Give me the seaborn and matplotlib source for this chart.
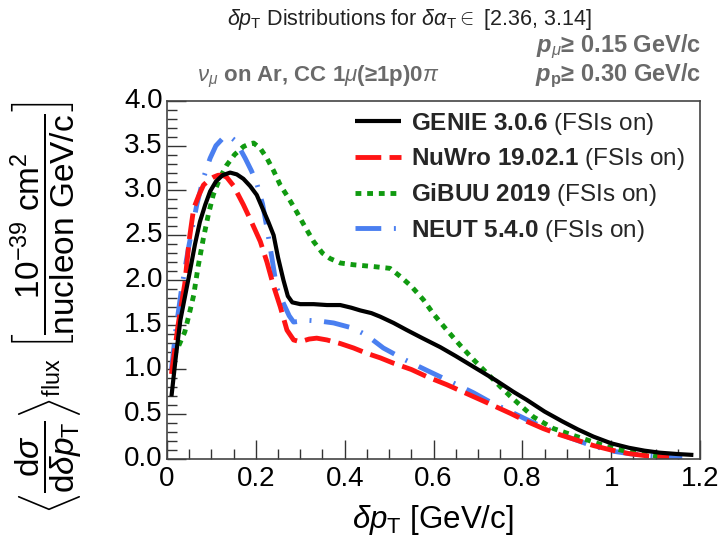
import numpy as np
import pandas as pd
import seaborn as sns
import matplotlib
matplotlib.use("Agg")
import matplotlib.pyplot as plt
from matplotlib.lines import Line2D
from matplotlib.ticker import MultipleLocator

# ---------------- data ----------------
genie_x = [0.01, 0.02, 0.03, 0.041, 0.052, 0.063, 0.074, 0.086, 0.097, 0.11, 0.125, 0.142,
           0.157, 0.172, 0.187, 0.202, 0.215, 0.228, 0.24, 0.25, 0.262, 0.272, 0.282, 0.30,
           0.33, 0.36, 0.39, 0.415, 0.435, 0.46, 0.48, 0.51, 0.54, 0.575, 0.615, 0.65, 0.69,
           0.74, 0.78, 0.81, 0.85, 0.89, 0.925, 0.96, 1.0, 1.04, 1.075, 1.11, 1.15, 1.185]
genie_y = [0.70, 1.15, 1.55, 1.83, 2.11, 2.40, 2.65, 2.84, 2.99, 3.10, 3.17, 3.20,
           3.18, 3.13, 3.05, 2.95, 2.80, 2.65, 2.50, 2.25, 2.00, 1.82, 1.75, 1.73,
           1.73, 1.72, 1.72, 1.69, 1.66, 1.63, 1.59, 1.52, 1.44, 1.35, 1.25, 1.15, 1.03,
           0.88, 0.75, 0.66, 0.53, 0.42, 0.33, 0.25, 0.175, 0.125, 0.093, 0.07, 0.055, 0.045]

nuwro_x = [0.01, 0.025, 0.04, 0.05, 0.06, 0.072, 0.082, 0.095, 0.105, 0.115, 0.125, 0.134,
           0.15, 0.172, 0.19, 0.21, 0.225, 0.24, 0.255, 0.27, 0.285, 0.30, 0.32, 0.337,
           0.36, 0.39, 0.42, 0.45, 0.48, 0.51, 0.55, 0.585, 0.63, 0.675, 0.72, 0.773,
           0.81, 0.847, 0.885, 0.923, 0.96, 1.0, 1.04, 1.08, 1.11, 1.13]
nuwro_y = [0.95, 1.50, 1.96, 2.45, 2.80, 2.95, 3.06, 3.12, 3.15, 3.17, 3.17, 3.15,
           3.05, 2.84, 2.65, 2.43, 2.20, 1.93, 1.70, 1.44, 1.33, 1.31, 1.34, 1.35,
           1.33, 1.29, 1.24, 1.18, 1.13, 1.07, 1.00, 0.92, 0.83, 0.73, 0.63, 0.51,
           0.42, 0.34, 0.27, 0.21, 0.15, 0.10, 0.06, 0.035, 0.026, 0.02]

gibuu_x = [0.015, 0.025, 0.04, 0.05, 0.06, 0.07, 0.082, 0.093, 0.104, 0.12, 0.134, 0.152,
           0.172, 0.185, 0.195, 0.21, 0.225, 0.24, 0.255, 0.273, 0.292, 0.31, 0.33, 0.35,
           0.367, 0.39, 0.42, 0.465, 0.502, 0.525, 0.55, 0.577, 0.60, 0.63, 0.66, 0.69,
           0.72, 0.75, 0.773, 0.80, 0.825, 0.87, 0.923, 0.96, 0.99, 1.03, 1.073, 1.10, 1.13]
gibuu_y = [1.15, 1.25, 1.42, 1.62, 1.83, 2.15, 2.47, 2.73, 2.95, 3.15, 3.28, 3.40,
           3.49, 3.52, 3.53, 3.47, 3.36, 3.22, 3.06, 2.92, 2.76, 2.60, 2.43, 2.30,
           2.24, 2.19, 2.17, 2.15, 2.13, 2.04, 1.93, 1.78, 1.62, 1.44, 1.27, 1.11,
           0.96, 0.81, 0.70, 0.58, 0.47, 0.34, 0.25, 0.19, 0.14, 0.09, 0.056, 0.035, 0.02]

neut_x = [0.01, 0.02, 0.033, 0.048, 0.067, 0.082, 0.097, 0.11, 0.125, 0.14, 0.155, 0.176,
          0.19, 0.202, 0.215, 0.225, 0.236, 0.247, 0.262, 0.275, 0.285, 0.30, 0.315, 0.345,
          0.375, 0.42, 0.45, 0.487, 0.535, 0.585, 0.64, 0.69, 0.73, 0.773, 0.81, 0.85,
          0.90, 0.95, 1.0, 1.04, 1.08, 1.12, 1.16]
neut_y = [1.00, 1.45, 1.91, 2.35, 2.84, 3.14, 3.36, 3.50, 3.58, 3.61, 3.55, 3.36,
          3.22, 3.08, 2.85, 2.58, 2.25, 1.91, 1.74, 1.60, 1.53, 1.54, 1.55, 1.54,
          1.52, 1.46, 1.38, 1.24, 1.11, 0.99, 0.86, 0.74, 0.63, 0.53, 0.44, 0.35,
          0.25, 0.16, 0.09, 0.06, 0.04, 0.025, 0.02]

model_names = ["GENIE 3.0.6", "NuWro 19.02.1", "GiBUU 2019", "NEUT 5.4.0"]
x_ticks = [0, 0.2, 0.4, 0.6, 0.8, 1.0, 1.2]
x_tick_labels = ["0", "0.2", "0.4", "0.6", "0.8", "1", "1.2"]
y_ticks = [0.0, 0.5, 1.0, 1.5, 2.0, 2.5, 3.0, 3.5, 4.0]
y_tick_labels = ["0.0", "0.5", "1.0", "1.5", "2.0", "2.5", "3.0", "3.5", "4.0"]

# ---------------- style ----------------
sns.set_theme(style="ticks")
plt.rcParams["font.family"] = ["Liberation Sans", "DejaVu Sans"]
plt.rcParams["mathtext.fontset"] = "custom"
plt.rcParams["mathtext.rm"] = "Liberation Sans"
plt.rcParams["mathtext.it"] = "Liberation Sans:italic"
plt.rcParams["mathtext.bf"] = "Liberation Sans:bold"
plt.rcParams["mathtext.bfit"] = "Liberation Sans:italic:bold"
plt.rcParams["mathtext.sf"] = "Liberation Sans"

fig = plt.figure(figsize=(7.24, 5.47), dpi=100)
ax = fig.add_axes([0.2307, 0.1609, 0.7362, 0.6545])

series = [
    (genie_x, genie_y, "black", 3.0, "-"),
    (nuwro_x, nuwro_y, "#ff1414", 3.5, (0, (5.3, 1.7))),
    (gibuu_x, gibuu_y, "#109a10", 3.5, (0, (1.2, 1.2))),
    (neut_x, neut_y, "#4a7ff0", 3.5, (0, (5.3, 2.6, 0.4, 2.6))),
]
order = [3, 2, 1, 0]
for i in order:
    xs, ys, c, lw, ls = series[i]
    df = pd.DataFrame({"x": xs, "y": ys})
    sns.lineplot(data=df, x="x", y="y", ax=ax, color=c, linewidth=lw,
                 linestyle=ls, estimator=None, sort=False,
                 solid_capstyle="butt", dash_capstyle="butt")

ax.set_xlim(0, 1.2)
ax.set_ylim(0, 4.0)
ax.set_xticks(x_ticks)
ax.set_xticklabels(x_tick_labels)
ax.set_yticks(y_ticks)
ax.set_yticklabels(y_tick_labels)
ax.xaxis.set_minor_locator(MultipleLocator(0.05))
ax.yaxis.set_minor_locator(MultipleLocator(0.1))
ax.tick_params(which="major", direction="in", length=14, width=1.0,
               labelsize=20, colors="#333333", labelcolor="black",
               top=False, right=False)
ax.tick_params(which="minor", direction="in", length=7, width=1.0,
               colors="#333333", top=False, right=False)
ax.tick_params(axis="x", which="major", pad=5)
ax.tick_params(axis="y", which="major", pad=3)
for lab in ax.get_yticklabels():
    lab.set_verticalalignment("center")
for s in ax.spines.values():
    s.set_color("#444444")
    s.set_linewidth(1.2)
ax.set_xlabel("")
ax.set_ylabel("")

# legend
handles = []
labels = []
for i in range(4):
    xs, ys, c, lw, ls = series[i]
    handles.append(Line2D([0], [0], color=c, linewidth=lw, linestyle=ls,
                          solid_capstyle="butt", dash_capstyle="butt"))
    nm = model_names[i].replace(" ", r"\ ")
    labels.append(r"$\mathbf{" + nm + r"}$ (FSIs on)")
leg = ax.legend(handles, labels, loc="upper left", frameon=False,
                fontsize=17.5, handlelength=1.9, handletextpad=0.42,
                labelspacing=0.38, borderaxespad=0.0, borderpad=0.0,
                bbox_to_anchor=(0.352, 0.972))

# texts
fig.text(0.565, 1 - 25 / 547, r"$\delta p_{\mathrm{T}}$ Distributions for $\delta\alpha_{\mathrm{T}} \in$ [2.36, 3.14]",
         ha="center", va="baseline", fontsize=15.5, color="#222222")
grey = "#6a6a6a"
fig.text(197 / 724, 1 - 81 / 547, r"$\nu_{\mu}$ on Ar, CC 1$\mu$(≥1p)0$\pi$",
         ha="left", va="baseline", fontsize=16, color=grey, fontweight="bold")
fig.text(0.969, 1 - 52 / 547, r"$\mathbfit{p}_{\mu}$≥ 0.15 GeV/c",
         ha="right", va="baseline", fontsize=17, color=grey, fontweight="bold")
fig.text(0.969, 1 - 81 / 547, r"$\mathbfit{p}_{\mathbf{p}}$≥ 0.30 GeV/c",
         ha="right", va="baseline", fontsize=17, color=grey, fontweight="bold")

fig.text(433 / 724, 1 - 520 / 547, r"$\delta p_{\mathrm{T}}$ [GeV/c]",
         ha="center", va="center", fontsize=22.5, color="black")
fig.text(0.064, 1 - 307 / 547,
         r"$\left\langle\dfrac{\mathrm{d}\sigma}{\mathrm{d}\delta p_{\mathrm{T}}}\right\rangle_{\mathrm{flux}}\ \left[\dfrac{10^{-39}\ \mathrm{cm}^{2}}{\mathrm{nucleon\ GeV/c}}\right]$",
         ha="center", va="center", rotation=90, fontsize=24, color="black")

fig.savefig("out.png", dpi=100)
